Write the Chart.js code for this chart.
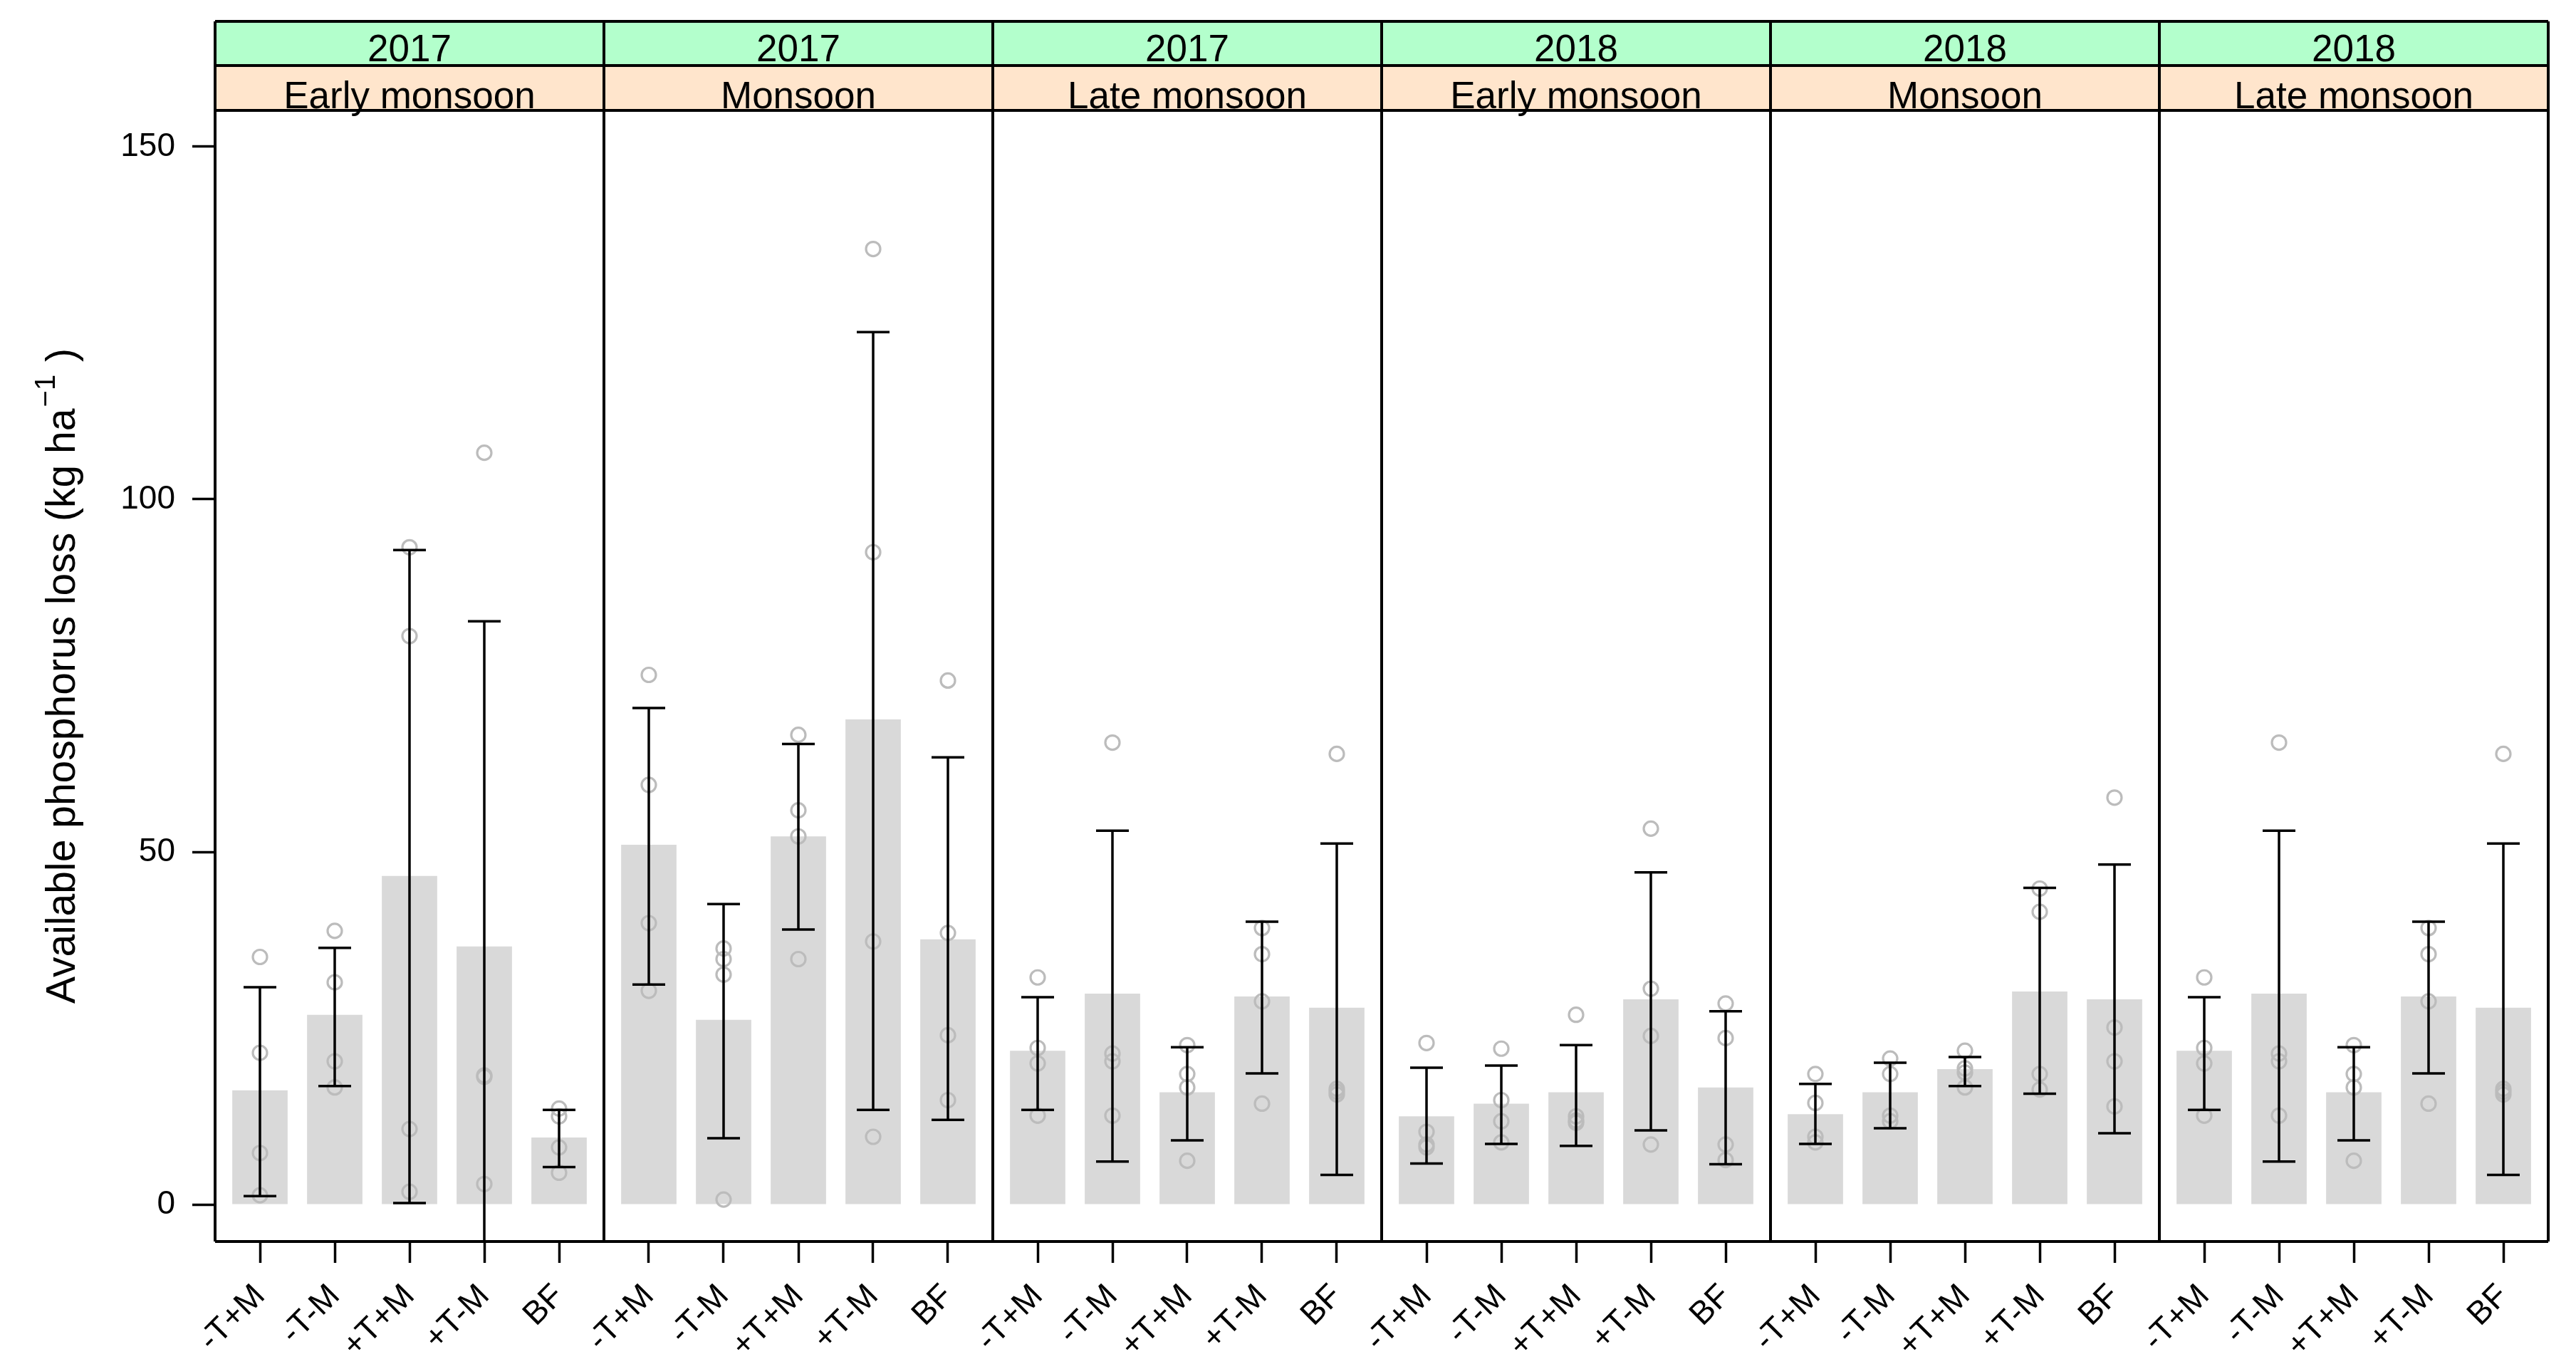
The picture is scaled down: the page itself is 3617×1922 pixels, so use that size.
<!DOCTYPE html>
<html>
<head>
<meta charset="utf-8">
<title>Available phosphorus loss</title>
<style>
  html, body { margin: 0; padding: 0; background: #ffffff; }
  #chart { display: block; }
</style>
</head>
<body>
<canvas id="chart" width="3617" height="1922"></canvas>
<script src="https://cdn.jsdelivr.net/npm/chart.js@4.4.0/dist/chart.umd.min.js"></script>
<script>
// panels (outer strip = year, inner strip = season)
var panelYears = ['2017', '2017', '2017', '2018', '2018', '2018'];
var panelSeasons = ['Early monsoon', 'Monsoon', 'Late monsoon', 'Early monsoon', 'Monsoon', 'Late monsoon'];
var treatments = ['-T+M', '-T-M', '+T+M', '+T-M', 'BF'];
var yTicks = [0, 50, 100, 150];

// bar height = mean loss, one row per panel, one value per treatment
var meanLoss = [
  [16.2, 26.9, 46.6, 36.6, 9.5],
  [51.0, 26.2, 52.2, 68.8, 37.6],
  [21.8, 29.9, 15.9, 29.5, 27.9],
  [12.5, 14.3, 15.9, 29.1, 16.6],
  [12.8, 15.9, 19.2, 30.2, 29.1],
  [21.8, 29.9, 15.9, 29.5, 27.9]
];
// error bar ends
var barLow = [
  [1.2, 16.8, 0.2, -9.5, 5.3],
  [31.2, 9.4, 39.0, 13.4, 12.0],
  [13.4, 6.1, 9.1, 18.6, 4.2],
  [5.8, 8.6, 8.3, 10.5, 5.7],
  [8.6, 10.8, 16.8, 15.7, 10.1],
  [13.4, 6.1, 9.1, 18.6, 4.2]
];
var barHigh = [
  [30.8, 36.4, 92.8, 82.7, 13.4],
  [70.4, 42.6, 65.3, 123.7, 63.4],
  [29.4, 53.0, 22.3, 40.1, 51.2],
  [19.4, 19.7, 22.6, 47.1, 27.4],
  [17.1, 20.1, 20.9, 44.9, 48.2],
  [29.4, 53.0, 22.3, 40.1, 51.2]
];
// the four plot replicates behind each bar
var replicates = [
  [[35.1, 21.5, 7.3, 1.3], [38.8, 31.5, 20.3, 16.6], [93.2, 80.6, 10.7, 1.8], [106.6, 18.3, 18.1, 2.9], [13.6, 12.5, 8.1, 4.5]],
  [[75.1, 59.5, 39.9, 30.3], [36.3, 34.8, 32.6, 0.7], [66.6, 55.9, 52.2, 34.8], [135.5, 92.5, 37.3, 9.6], [74.3, 38.5, 24.0, 14.8]],
  [[32.2, 22.2, 20.0, 12.6], [65.5, 21.4, 20.3, 12.6], [22.6, 18.5, 16.6, 6.2], [39.2, 35.5, 28.8, 14.3], [63.9, 16.4, 16.0, 15.6]],
  [[22.9, 10.3, 8.5, 8.1], [22.1, 14.8, 11.8, 8.8], [26.9, 12.5, 11.9, 11.6], [53.3, 30.6, 23.9, 8.5], [28.5, 23.6, 8.5, 6.3]],
  [[18.5, 14.4, 9.6, 8.8], [20.7, 18.5, 12.6, 11.8], [21.8, 19.3, 18.7, 16.6], [44.8, 41.5, 18.5, 16.3], [57.7, 25.1, 20.3, 13.9]],
  [[32.2, 22.2, 20.0, 12.6], [65.5, 21.4, 20.3, 12.6], [22.6, 18.5, 16.6, 6.2], [39.2, 35.5, 28.8, 14.3], [63.9, 16.4, 16.0, 15.6]]
];

// each panel spans 5.2 units on one shared linear x axis (lattice style 0.4..5.6)
var panelSpan = 5.2;
function xPos(p, j) { return p * panelSpan + j + 0.6; }

var barPoints = [];
var repPoints = [];
var tickPos = [];
meanLoss.forEach(function(row, p) {
  row.forEach(function(v, j) {
    barPoints.push({x: xPos(p, j), y: v});
    tickPos.push(xPos(p, j));
    replicates[p][j].forEach(function(r) { repPoints.push({x: xPos(p, j), y: r}); });
  });
});

var FONT = "'Liberation Sans', Arial, sans-serif";

var latticePlugin = {
  id: 'lattice',
  afterDatasetsDraw: function(chart) {
    var ctx = chart.ctx, a = chart.chartArea, xs = chart.scales.x, ys = chart.scales.y;
    // error bars
    ctx.save();
    ctx.beginPath();
    ctx.rect(a.left, a.top, a.right - a.left, a.bottom - a.top);
    ctx.clip();
    ctx.strokeStyle = '#000';
    ctx.lineWidth = 3.5;
    meanLoss.forEach(function(row, p) {
      row.forEach(function(v, j) {
        var px = xs.getPixelForValue(xPos(p, j));
        var lo = ys.getPixelForValue(barLow[p][j]);
        var hi = ys.getPixelForValue(barHigh[p][j]);
        ctx.beginPath();
        ctx.moveTo(px, lo); ctx.lineTo(px, hi);
        ctx.moveTo(px - 23, lo); ctx.lineTo(px + 23, lo);
        ctx.moveTo(px - 23, hi); ctx.lineTo(px + 23, hi);
        ctx.stroke();
      });
    });
    ctx.restore();
  },
  afterDraw: function(chart) {
    var ctx = chart.ctx, a = chart.chartArea, xs = chart.scales.x;
    var stripTop = 30, stripMid = 92;
    var left = xs.getPixelForValue(0);
    var right = xs.getPixelForValue(panelSpan * panelYears.length);
    ctx.save();
    // strips
    panelYears.forEach(function(yr, p) {
      var x0 = xs.getPixelForValue(p * panelSpan);
      var x1 = xs.getPixelForValue((p + 1) * panelSpan);
      ctx.fillStyle = '#b3ffcc';
      ctx.fillRect(x0, stripTop, x1 - x0, stripMid - stripTop);
      ctx.fillStyle = '#ffe5cc';
      ctx.fillRect(x0, stripMid, x1 - x0, a.top - stripMid);
      ctx.fillStyle = '#000';
      ctx.font = '53px ' + FONT;
      ctx.textAlign = 'center';
      ctx.textBaseline = 'alphabetic';
      ctx.fillText(yr, (x0 + x1) / 2, stripMid - 6);
      ctx.fillText(panelSeasons[p], (x0 + x1) / 2, a.top - 3);
    });
    // frame, strip rules and panel dividers
    ctx.strokeStyle = '#000';
    ctx.lineWidth = 4;
    ctx.beginPath();
    ctx.moveTo(left, stripTop); ctx.lineTo(right, stripTop);
    ctx.moveTo(left, stripMid); ctx.lineTo(right, stripMid);
    ctx.moveTo(left, a.top); ctx.lineTo(right, a.top);
    ctx.moveTo(left, a.bottom); ctx.lineTo(right, a.bottom);
    for (var p = 0; p <= panelYears.length; p++) {
      var xp = xs.getPixelForValue(p * panelSpan);
      ctx.moveTo(xp, stripTop); ctx.lineTo(xp, a.bottom);
    }
    ctx.stroke();
    // y axis title with superscript
    var main = 'Available phosphorus loss (kg ha';
    var sup = '\u22121';
    var tail = ' )';
    ctx.font = '57px ' + FONT;
    var wMain = ctx.measureText(main).width;
    var wTail = ctx.measureText(tail).width;
    ctx.font = '40px ' + FONT;
    var wSup = ctx.measureText(sup).width;
    var total = wMain + wSup + 4 + wTail;
    ctx.translate(105, (a.top + a.bottom) / 2);
    ctx.rotate(-Math.PI / 2);
    ctx.textAlign = 'left';
    ctx.fillStyle = '#000';
    var sx = -total / 2;
    ctx.font = '57px ' + FONT;
    ctx.fillText(main, sx, 0);
    ctx.font = '40px ' + FONT;
    ctx.fillText(sup, sx + wMain + 2, -28);
    ctx.font = '57px ' + FONT;
    ctx.fillText(tail, sx + wMain + wSup + 4, 0);
    ctx.restore();
  }
};

new Chart(document.getElementById('chart'), {
  type: 'bar',
  data: {
    datasets: [
      {
        type: 'scatter',
        data: repPoints,
        pointStyle: 'circle',
        pointRadius: 10,
        borderWidth: 3.2,
        borderColor: '#bcbcbc',
        backgroundColor: 'rgba(0,0,0,0)',
        order: 1
      },
      {
        type: 'bar',
        data: barPoints,
        backgroundColor: '#d9d9d9',
        borderWidth: 0,
        barPercentage: 0.74,
        categoryPercentage: 1,
        order: 2
      }
    ]
  },
  options: {
    responsive: false,
    devicePixelRatio: 1,
    animation: false,
    layout: { padding: { top: 155, right: 39, left: 0, bottom: 0 } },
    plugins: { legend: { display: false }, tooltip: { enabled: false } },
    scales: {
      x: {
        type: 'linear',
        offset: false,
        min: 0,
        max: panelSpan * panelYears.length,
        border: { display: false },
        grid: { offset: false, drawOnChartArea: false, drawTicks: true, tickLength: 30, tickWidth: 3.5, tickColor: '#000' },
        afterBuildTicks: function(scale) {
          scale.ticks = tickPos.map(function(v) { return {value: v}; });
        },
        afterFit: function(scale) {
          scale.height = 179;
          scale.paddingLeft = 0;
          scale.paddingRight = 0;
        },
        ticks: {
          autoSkip: false,
          minRotation: 45,
          maxRotation: 45,
          padding: 20,
          color: '#000',
          font: { family: FONT, size: 46 },
          callback: function(value, index) { return treatments[index % treatments.length]; }
        }
      },
      y: {
        type: 'linear',
        min: -5.25,
        max: 155.15,
        border: { display: false },
        grid: { drawOnChartArea: false, drawTicks: true, tickLength: 32, tickWidth: 3.5, tickColor: '#000' },
        afterBuildTicks: function(scale) {
          scale.ticks = yTicks.map(function(v) { return {value: v}; });
        },
        afterFit: function(scale) {
          scale.width = 302;
          scale.paddingTop = 0;
          scale.paddingBottom = 0;
        },
        ticks: {
          padding: 24,
          color: '#000',
          font: { family: FONT, size: 46 }
        }
      }
    }
  },
  plugins: [latticePlugin]
});
</script>
</body>
</html>
